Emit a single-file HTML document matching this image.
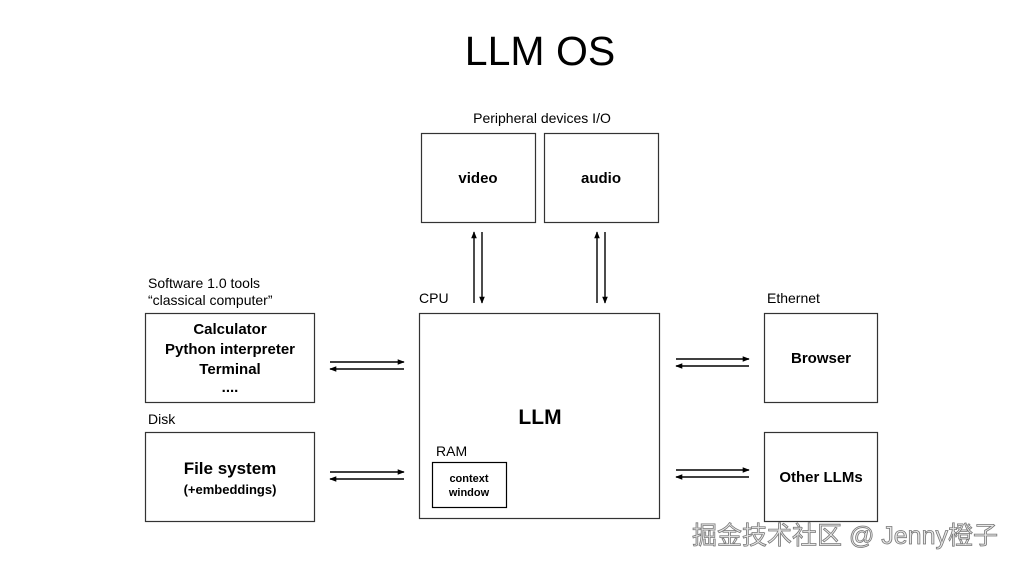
<!DOCTYPE html>
<html><head><meta charset="utf-8"><style>
body{margin:0;background:#fff;}
svg{display:block;font-family:"Liberation Sans",Arial,sans-serif;}
</style></head><body>
<svg width="1018" height="567" viewBox="0 0 1018 567" xmlns="http://www.w3.org/2000/svg">
<defs>
<marker id="a" viewBox="0 0 10 10" refX="9" refY="5" markerWidth="7" markerHeight="7" orient="auto-start-reverse" markerUnits="userSpaceOnUse"><path d="M0,1 L10,5 L0,9 z" fill="#000"/></marker>
</defs>
<text x="540" y="65" font-size="41" text-anchor="middle" fill="#000">LLM OS</text>
<text x="542" y="123" font-size="14" text-anchor="middle">Peripheral devices I/O</text>
<g fill="none" stroke="#333" stroke-width="1.2">
<rect x="421.5" y="133.5" width="114" height="89"/>
<rect x="544.5" y="133.5" width="114" height="89"/>
<rect x="419.5" y="313.5" width="240" height="205"/>
<rect x="145.5" y="313.5" width="169" height="89"/>
<rect x="145.5" y="432.5" width="169" height="89"/>
<rect x="764.5" y="313.5" width="113" height="89"/>
<rect x="764.5" y="432.5" width="113" height="89"/>
<rect x="432.5" y="462.5" width="74" height="45" stroke="#000"/>
</g>
<g font-weight="bold" text-anchor="middle" font-size="15">
<text x="478" y="183">video</text>
<text x="601" y="183">audio</text>
<text x="230" y="334">Calculator</text>
<text x="230" y="354">Python interpreter</text>
<text x="230" y="374">Terminal</text>
<text x="230" y="392">....</text>
<text x="230" y="474" font-size="17">File system</text>
<text x="230" y="494" font-size="13">(+embeddings)</text>
<text x="821" y="363">Browser</text>
<text x="821" y="482">Other LLMs</text>
<text x="540" y="424" font-size="21">LLM</text>
<text x="469" y="482" font-size="11">context</text>
<text x="469" y="496" font-size="11">window</text>
</g>
<g font-size="14">
<text x="148" y="288">Software 1.0 tools</text>
<text x="148" y="305">“classical computer”</text>
<text x="419" y="303">CPU</text>
<text x="148" y="424">Disk</text>
<text x="767" y="303">Ethernet</text>
<text x="436" y="456">RAM</text>
</g>
<g stroke="#000" stroke-width="1.4" marker-end="url(#a)">
<line x1="474" y1="303" x2="474" y2="232"/>
<line x1="482" y1="232" x2="482" y2="303"/>
<line x1="597" y1="303" x2="597" y2="232"/>
<line x1="605" y1="232" x2="605" y2="303"/>
<line x1="330" y1="362" x2="404" y2="362"/>
<line x1="404" y1="369" x2="330" y2="369"/>
<line x1="330" y1="472" x2="404" y2="472"/>
<line x1="404" y1="479" x2="330" y2="479"/>
<line x1="676" y1="359" x2="749" y2="359"/>
<line x1="749" y1="366" x2="676" y2="366"/>
<line x1="676" y1="470" x2="749" y2="470"/>
<line x1="749" y1="477" x2="676" y2="477"/>
</g>
<text x="845" y="544" font-size="25" text-anchor="middle" fill="#e8e8e8" stroke="#777" stroke-width="0.8" font-family="'Liberation Sans','Noto Sans CJK SC',sans-serif">掘金技术社区 @ Jenny橙子</text>
</svg>
</body></html>
